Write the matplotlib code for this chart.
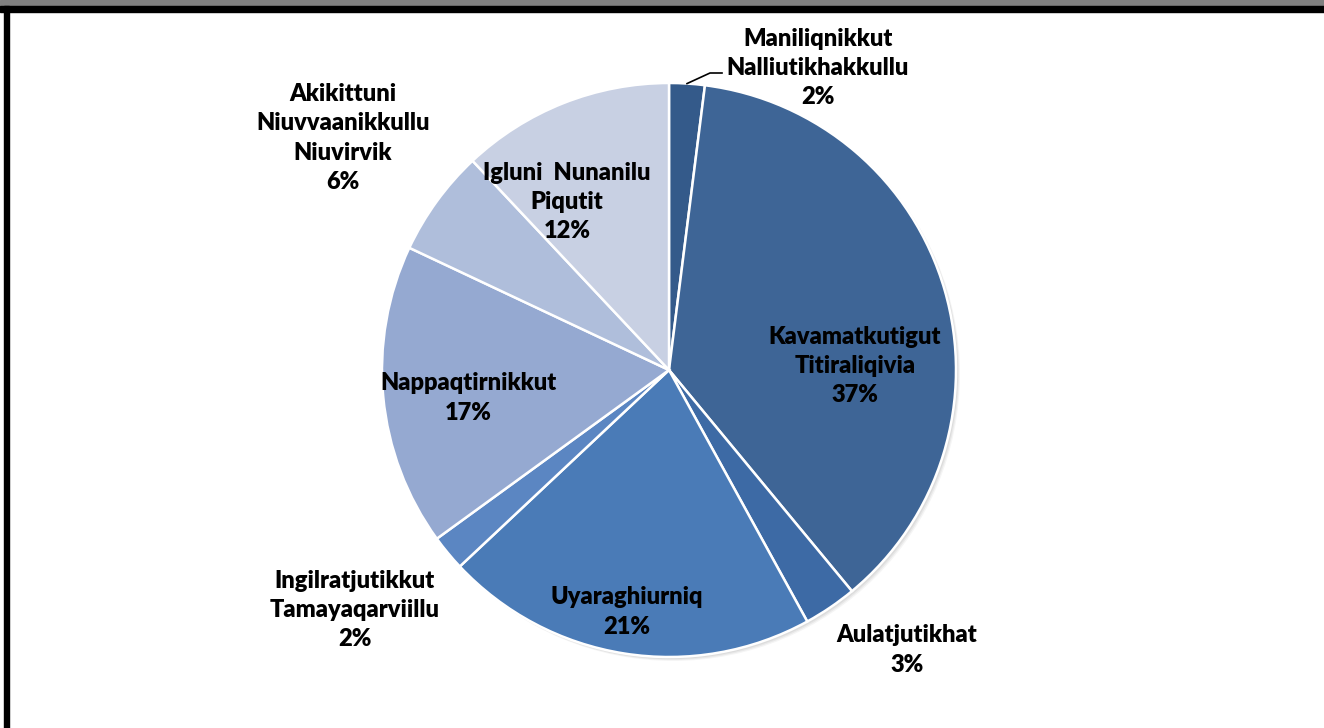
import matplotlib.pyplot as plt
import numpy as np
from matplotlib.patches import Rectangle, Circle

# slices, clockwise from 12 o'clock
labels = ["Maniliqnikkut\nNalliutikhakkullu", "Kavamatkutigut\nTitiraliqivia", "Aulatjutikhat",
          "Uyaraghiurniq", "Ingilratjutikkut\nTamayaqarviillu", "Nappaqtirnikkut",
          "Akikittuni\nNiuvvaanikkullu\nNiuvirvik", "Igluni  Nunanilu\nPiqutit"]
shares = [2, 37, 3, 21, 2, 17, 6, 12]
colors = ["#345a8a", "#3e6596", "#3d6aa5", "#4a7bb7", "#5b86c2", "#95a9d1", "#afbedb", "#c8d0e3"]

# label centres in pixels (x from left, y from top)
label_pos = [(818, 68), (855, 366), (907, 650), (627, 612), (355, 610), (468, 398), (343, 138), (567, 202)]

W, H = 1324, 728
CX, CY, R = 669, 370, 287

plt.rcParams['font.family'] = ['Lato', 'DejaVu Sans']
fig = plt.figure(figsize=(W / 100, H / 100), dpi=100)
ax = fig.add_axes([0, 0, 1, 1])

# soft shadow under the pie
for i, a in enumerate([0.05, 0.05, 0.04]):
    ax.add_patch(Circle((CX + 2 + i, H - CY - 2 - i), R, color='black', alpha=a, lw=0, zorder=0))

wedges, _ = ax.pie(shares, colors=colors, startangle=90, counterclock=False,
                   center=(CX, H - CY), radius=R, frame=True,
                   wedgeprops=dict(edgecolor='white', linewidth=1.8))
ax.set_xlim(0, W)
ax.set_ylim(0, H)
ax.axis('off')

for lab, s, (px, py) in zip(labels, shares, label_pos):
    ax.text(px, H - py, f"{lab}\n{s}%", ha='center', va='center', fontsize=17,
            fontweight='heavy', linespacing=1.4, color='black')

# leader line for the first small slice
mid = np.deg2rad(90 - shares[0] / 2 * 3.6)
ex, ey = CX + R * np.cos(mid), H - CY + R * np.sin(mid)
ax.plot([ex, 710, 722], [ey, H - 73, H - 73], color='black', lw=1.2)

# frame: grey strip, black top and left edges
fig.patches.append(Rectangle((0, 1 - 6 / H), 1, 6 / H, transform=fig.transFigure, color='#808080'))
fig.patches.append(Rectangle((0, 1 - 12 / H), 1, 6 / H, transform=fig.transFigure, color='black'))
fig.patches.append(Rectangle((4 / W, 0), 5 / W, 1 - 6 / H, transform=fig.transFigure, color='black'))

fig.savefig('out.png', dpi=100)
